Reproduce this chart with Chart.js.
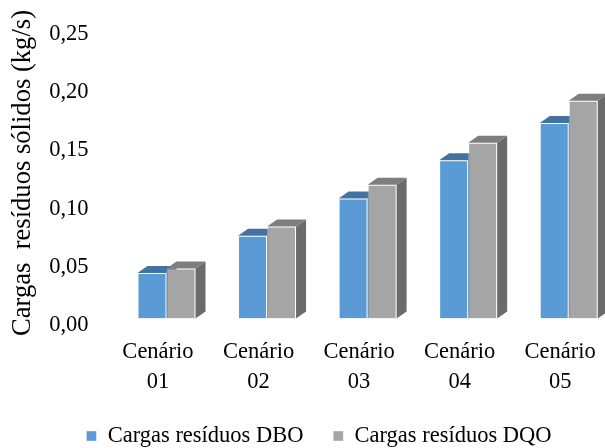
<!DOCTYPE html>
<html>
<head>
<meta charset="utf-8">
<script src="https://cdn.jsdelivr.net/npm/chart.js@4.4.1/dist/chart.umd.min.js"></script>
<style>
  html, body { margin: 0; padding: 0; background: #ffffff; overflow: hidden; width: 605px; height: 448px; }
  #wrap { width: 625px; height: 460px; }
</style>
</head>
<body>
<div id="wrap"><canvas id="chart" width="625" height="460"></canvas></div>
<script>
// Scenarios and solid-waste loads (kg/s)
const categories = [
  ['Cenário', '01'],
  ['Cenário', '02'],
  ['Cenário', '03'],
  ['Cenário', '04'],
  ['Cenário', '05']
];
const cargasDBO = [0.039, 0.071, 0.103, 0.136, 0.168];
const cargasDQO = [0.043, 0.079, 0.115, 0.151, 0.187];
const yTicks = [0, 0.05, 0.10, 0.15, 0.20, 0.25];

const FONT = 'Liberation Serif, Times New Roman, serif';

// Depth of the extruded boxes, in pixels
const depthX = 10;
const depthY = 7;
const faceColors = [
  { top: '#44729F', side: '#3D6891' },
  { top: '#7E7E7E', side: '#6B6B6B' }
];

// Draws the top and right faces of every bar before the front faces
const boxFaces = {
  id: 'boxFaces',
  beforeDatasetsDraw(chart) {
    const ctx = chart.ctx;
    ctx.save();
    chart.data.datasets.forEach((ds, i) => {
      const meta = chart.getDatasetMeta(i);
      meta.data.forEach(bar => {
        const p = bar.getProps(['x', 'y', 'base', 'width'], true);
        const l = p.x - p.width / 2;
        const r = p.x + p.width / 2;
        const t = p.y;
        const b = p.base;
        // right side
        ctx.fillStyle = faceColors[i].side;
        ctx.beginPath();
        ctx.moveTo(r, t);
        ctx.lineTo(r + depthX, t - depthY);
        ctx.lineTo(r + depthX, b - depthY);
        ctx.lineTo(r, b);
        ctx.closePath();
        ctx.fill();
        // top
        ctx.fillStyle = faceColors[i].top;
        ctx.beginPath();
        ctx.moveTo(l, t);
        ctx.lineTo(l + depthX, t - depthY);
        ctx.lineTo(r + depthX, t - depthY);
        ctx.lineTo(r, t);
        ctx.closePath();
        ctx.fill();
      });
    });
    ctx.restore();
  }
};

new Chart(document.getElementById('chart'), {
  type: 'bar',
  data: {
    labels: categories,
    datasets: [
      {
        label: 'Cargas resíduos DBO',
        data: cargasDBO,
        backgroundColor: '#5B9BD5',
        borderColor: 'rgba(255,255,255,0.35)',
        borderWidth: 1,
        categoryPercentage: 0.577,
        barPercentage: 1.0
      },
      {
        label: 'Cargas resíduos DQO',
        data: cargasDQO,
        backgroundColor: '#A5A5A5',
        borderColor: 'rgba(255,255,255,0.35)',
        borderWidth: 1,
        categoryPercentage: 0.577,
        barPercentage: 1.0
      }
    ]
  },
  options: {
    responsive: false,
    animation: false,
    devicePixelRatio: 1,
    layout: { padding: { top: 27.5, left: 19, right: 6, bottom: 2.75 } },
    plugins: {
      tooltip: { enabled: false },
      legend: {
        position: 'bottom',
        labels: {
          color: '#000000',
          font: { family: FONT, size: 22.5 },
          boxWidth: 10,
          boxHeight: 10,
          padding: 29.75
        }
      }
    },
    scales: {
      x: {
        grid: { display: false, drawTicks: false },
        border: { display: false },
        ticks: {
          color: '#000000',
          font: { family: FONT, size: 22.5, lineHeight: 1.333 },
          padding: 18.5,
          labelOffset: -8.5,
          maxRotation: 0,
          autoSkip: false
        },
        afterFit(scale) { scale.height = 76.5; }
      },
      y: {
        min: 0,
        max: 0.25,
        grid: { display: false, drawTicks: true, tickLength: 27.7 },
        border: { display: false },
        afterBuildTicks(scale) {
          scale.ticks = yTicks.map(v => ({ value: v }));
        },
        ticks: {
          color: '#000000',
          font: { family: FONT, size: 22.5 },
          padding: 0,
          labelOffset: 6.5,
          callback: v => Number(v).toFixed(2).replace('.', ',')
        },
        title: {
          display: true,
          text: 'Cargas  resíduos sólidos (kg/s)',
          color: '#000000',
          font: { family: FONT, size: 26.6, lineHeight: 1.2 },
          padding: { top: -11.96, bottom: 0 }
        },
        afterFit(scale) { scale.width = 97.2; }
      }
    }
  },
  plugins: [boxFaces]
});
</script>
</body>
</html>
